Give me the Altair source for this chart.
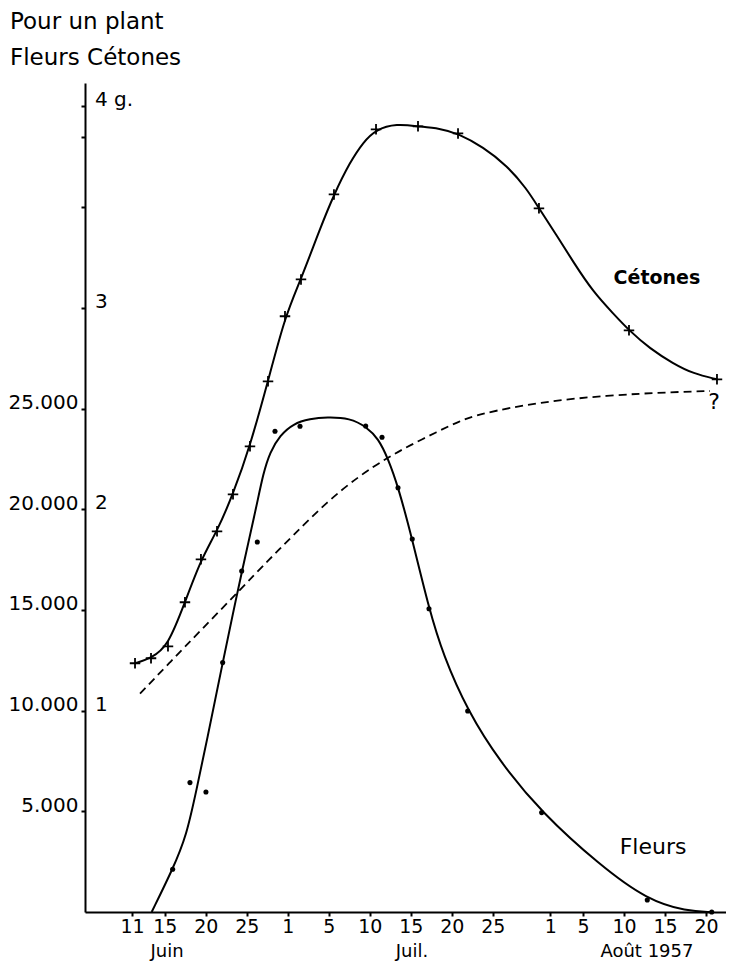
import altair as alt
import pandas as pd

# ---- data (day index: June d = d, July d = 30 + d, Aug d = 61 + d) ----
# Cétones, grams per plant (crosses)
cet_day = [11.37, 13.32, 15.39, 17.46, 19.41, 21.37, 23.32, 25.39, 27.59, 29.66,
           31.61, 35.63, 40.76, 45.88, 50.76, 60.63, 71.61, 82.34]
cet_g = [1.235, 1.260, 1.319, 1.538, 1.751, 1.890, 2.074, 2.312, 2.635, 2.958,
         3.141, 3.563, 3.886, 3.901, 3.866, 3.494, 2.888, 2.645]

# Cétones fitted curve (grams)
cet_curve_day = [11.37, 13.32, 15.39, 17.46, 19.41, 21.37, 23.32, 25.39, 27.59, 29.66,
                 31.61, 33.93, 35.63, 37.59, 39.21, 40.76, 43.28, 45.88, 48.56, 50.76,
                 53.84, 56.70, 59.13, 60.63, 62.79, 64.82, 67.26, 69.70, 71.61, 74.17,
                 77.01, 79.45, 82.34]
cet_curve_g = [1.235, 1.260, 1.319, 1.538, 1.751, 1.890, 2.074, 2.312, 2.635, 2.958,
               3.141, 3.393, 3.563, 3.724, 3.823, 3.886, 3.914, 3.901, 3.890, 3.866,
               3.798, 3.707, 3.592, 3.494, 3.360, 3.227, 3.078, 2.971, 2.888, 2.797,
               2.723, 2.673, 2.645]

# Fleurs, number of flowers per plant (dots)
fl_day = [15.96, 18.07, 20.02, 22.06, 24.38, 26.28, 28.44, 31.49, 39.50, 41.49,
          43.44, 45.18, 47.22, 51.94, 60.96, 73.84, 81.70]
fl_val = [2120, 6425, 5958, 12383, 16931, 18371, 23868, 24116, 24131, 23570,
          21063, 18520, 15055, 9980, 4935, 596, 0]

# Fleurs fitted curve
fl_curve_day = [13.40, 15.96, 17.67, 18.89, 20.11, 22.06, 23.35, 24.38, 26.21, 27.01,
                27.83, 29.05, 30.67, 32.71, 34.74, 37.59, 39.62, 41.04, 42.18, 43.48,
                45.18, 47.22, 48.96, 51.94, 55.88, 60.96, 68.07, 73.84, 78.65, 81.70]
fl_curve_val = [0, 2120, 3808, 6127, 8450, 12383, 14895, 16866, 20193, 21781,
                22839, 23668, 24249, 24487, 24577, 24527, 24080, 23504, 22561, 21101,
                18505, 15054, 12745, 9980, 7448, 4935, 2319, 596, 35, 0]

# dashed curve
dash_day = [11.98, 15.63, 19.29, 24.17, 27.83, 30.67, 34.74, 38.80, 42.18, 44.90,
            48.16, 50.88, 53.44, 60.76, 68.89, 77.01, 81.49]
dash_val = [10844, 12398, 13937, 15997, 17546, 18703, 20357, 21682, 22561, 23172,
            23832, 24363, 24746, 25322, 25654, 25818, 25868]

x_tick_pos = [11, 15, 20, 25, 30, 35, 40, 45, 50, 55, 62, 66, 71, 76, 81]
x_tick_labels = ["11", "15", "20", "25", "1", "5", "10", "15", "20", "25",
                 "1", "5", "10", "15", "20"]
month_labels = ["Juin", "Juil.", "Août 1957"]
month_pos = [15.27, 45.15, 73.8]

y_tick_vals = [5000, 10000, 15000, 20000, 25000, 30000, 35000, 38500, 40000]
y_tick_labels = ["5.000", "10.000", "15.000", "20.000", "25.000", "", "", "", ""]
g_ticks = [1, 2, 3, 4]
g_labels = ["1", "2", "3", "4 g."]

bold_text = ["Cétones"]
bold_day = [75.02]
bold_val = [31464]
ann_text = ["Fleurs", "?"]
ann_day = [74.54, 81.98]
ann_val = [3212, 25307]

title_lines = ["Pour un plant", "Fleurs Cétones"]

# ---- chart ----
FONT = "DejaVu Sans"
X_DOMAIN = [5.27, 83.44]
Y_DOMAIN = [0, 41162]

x_expr = "".join(f"datum.value == {p} ? '{l}' : " for p, l in zip(x_tick_pos, x_tick_labels)) + "''"
y_expr = "".join(f"datum.value == {p} ? '{l}' : " for p, l in zip(y_tick_vals, y_tick_labels)) + "''"

axis_common = dict(title=None, grid=False, domainColor="black", domainWidth=2,
                   tickColor="black", tickWidth=2, tickSize=4, labelFont=FONT,
                   labelColor="black", labelOverlap=False)
x_axis = alt.Axis(values=x_tick_pos, labelExpr=x_expr, labelPadding=1, labelFontSize=19,
                  labelFlush=False, **axis_common)
y_axis = alt.Axis(values=y_tick_vals, labelExpr=y_expr, labelPadding=3, labelFontSize=20,
                  labelBaseline="alphabetic", labelFlush=False, **axis_common)


def X(field):
    return alt.X(f"{field}:Q", scale=alt.Scale(domain=X_DOMAIN, nice=False, zero=False),
                 axis=x_axis)


def Y(field):
    return alt.Y(f"{field}:Q", scale=alt.Scale(domain=Y_DOMAIN, nice=False, zero=False),
                 axis=y_axis)


dash = alt.Chart(pd.DataFrame({"d": dash_day, "v": dash_val})).mark_line(
    interpolate="basis", strokeDash=[8, 5], color="black", strokeWidth=1.8
).encode(x=X("d"), y=Y("v"))

fl_curve = alt.Chart(pd.DataFrame({"d": fl_curve_day, "v": fl_curve_val})).mark_line(
    interpolate="basis", color="black", strokeWidth=2
).encode(x=X("d"), y=Y("v"))

cet_curve = alt.Chart(pd.DataFrame({"d": cet_curve_day, "g": cet_curve_g})).transform_calculate(
    v="datum.g * 10000"
).mark_line(interpolate="basis", color="black", strokeWidth=2).encode(x=X("d"), y=Y("v"))

cet_pts = alt.Chart(pd.DataFrame({"d": cet_day, "g": cet_g})).transform_calculate(
    v="datum.g * 10000"
).mark_point(shape="M-1,0L1,0M0,-1L0,1", size=110, strokeWidth=1.8, color="black",
             filled=False, opacity=1).encode(x=X("d"), y=Y("v"))

fl_pts = alt.Chart(pd.DataFrame({"d": fl_day, "v": fl_val})).mark_circle(
    size=26, color="black", opacity=1
).encode(x=X("d"), y=Y("v"))

g_text = alt.Chart(pd.DataFrame({"g": g_ticks, "lab": g_labels})).transform_calculate(
    v="datum.g * 10000"
).mark_text(align="left", baseline="alphabetic", font=FONT, fontSize=20, color="black").encode(
    x=alt.value(10), y=Y("v"), text="lab:N")

month_text = alt.Chart(pd.DataFrame({"d": month_pos, "lab": month_labels})).mark_text(
    align="center", baseline="alphabetic", font=FONT, fontSize=18, color="black"
).encode(x=X("d"), y=alt.value(874), text="lab:N")

ann_bold = alt.Chart(pd.DataFrame({"d": bold_day, "v": bold_val, "lab": bold_text})).mark_text(
    align="center", baseline="middle", font=FONT, fontSize=19, fontWeight="bold", color="black"
).encode(x=X("d"), y=Y("v"), text="lab:N")

ann = alt.Chart(pd.DataFrame({"d": ann_day, "v": ann_val, "lab": ann_text})).mark_text(
    align="center", baseline="middle", font=FONT, fontSize=22, color="black"
).encode(x=X("d"), y=Y("v"), text="lab:N")

t1 = alt.Chart(pd.DataFrame({"lab": [title_lines[0]]})).mark_text(
    align="left", baseline="alphabetic", font=FONT, fontSize=23, color="black"
).encode(x=alt.value(-75), y=alt.value(-54), text="lab:N")
t2 = alt.Chart(pd.DataFrame({"lab": [title_lines[1]]})).mark_text(
    align="left", baseline="alphabetic", font=FONT, fontSize=23, color="black"
).encode(x=alt.value(-75), y=alt.value(-18), text="lab:N")

chart = alt.layer(dash, fl_curve, cet_curve, cet_pts, fl_pts, g_text, month_text,
                  ann_bold, ann, t1, t2).properties(
    width=641, height=829,
    autosize=alt.AutoSizeParams(type="none"),
    padding={"left": 77, "top": 75, "right": 0, "bottom": 49},
    background="white",
).configure_view(stroke=None)

chart.save("out.html", embed_options={"renderer": "svg", "actions": False})
